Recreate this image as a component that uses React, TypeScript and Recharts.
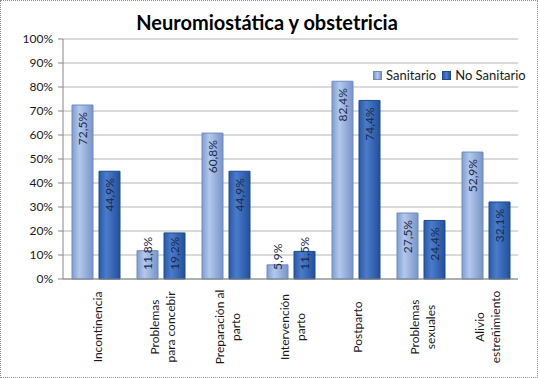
import { Bar, BarChart, CartesianGrid, LabelList, XAxis, YAxis } from "recharts";

const categories = [
  ["Incontinencia"],
  ["Problemas", "para concebir"],
  ["Preparación al", "parto"],
  ["Intervención", "parto"],
  ["Postparto"],
  ["Problemas", "sexuales"],
  ["Alivio", "estreñimiento"],
];
const sanitario = [72.5, 11.8, 60.8, 5.9, 82.4, 27.5, 52.9];
const noSanitario = [44.9, 19.2, 44.9, 11.5, 74.4, 24.4, 32.1];
const yTicks = [0, 10, 20, 30, 40, 50, 60, 70, 80, 90, 100];

const data = categories.map((lines, i) => ({
  name: lines.join(" "),
  lines,
  s: sanitario[i],
  n: noSanitario[i],
}));

const font = "Lato, 'Noto Sans', sans-serif";
const fmt = (v: number) => v.toFixed(1).replace(".", ",") + "%";

function XTick({ x, y, payload }: any) {
  const lines: string[] = data[payload.index]?.lines ?? [payload.value];
  const step = 16;
  const start = -((lines.length - 1) * step) / 2;
  return (
    <g transform={`translate(${x + 2},${y + 48}) rotate(-90)`}>
      {lines.map((l, i) => (
        <text key={i} x={0} y={start + i * step} dy="0.35em" textAnchor="middle" fontSize={12} fill="#1a1a1a" fontFamily={font}>
          {l}
        </text>
      ))}
    </g>
  );
}

function BarLabel({ x, y, width, height, value }: any) {
  const txt = fmt(Number(value));
  const len = txt.length * 6.5;
  const cx = x + width / 2;
  const bottom = y + height;
  const fits = height > len + 16;
  const ty = fits ? y + 7 : bottom - 9;
  return (
    <text
      transform={`translate(${cx},${ty}) rotate(-90)`}
      x={0}
      y={0}
      dy="0.35em"
      textAnchor={fits ? "end" : "start"}
      fontSize={12}
      fill="#1c2a48"
      fontFamily={font}
    >
      {txt}
    </text>
  );
}

export default function App() {
  return (
    <div style={{ position: "absolute", left: 0, top: 0, width: 538, height: 378, background: "#fff" }}>
      <div
        style={{
          position: "absolute",
          left: 0,
          top: 0,
          width: 538,
          height: 378,
          boxSizing: "border-box",
          border: "1px dotted #8c8c8c",
          pointerEvents: "none",
        }}
      />
      <div
        style={{
          position: "absolute",
          left: 0,
          top: 10,
          width: 538,
          textAlign: "center",
          fontFamily: font,
          fontWeight: 700,
          fontSize: 20,
          color: "#000",
          marginLeft: -2,
        }}
      >
        Neuromiostática y obstetricia
      </div>
      <BarChart
        width={538}
        height={378}
        data={data}
        margin={{ top: 39, right: 20, bottom: 0, left: 0 }}
        barCategoryGap={8}
        barGap={6}
      >
        <defs>
          <linearGradient id="gS" x1="0" y1="0" x2="1" y2="0">
            <stop offset="0%" stopColor="#7f9dd0" />
            <stop offset="35%" stopColor="#b3c8ec" />
            <stop offset="100%" stopColor="#7894c8" />
          </linearGradient>
          <linearGradient id="gN" x1="0" y1="0" x2="1" y2="0">
            <stop offset="0%" stopColor="#285aa8" />
            <stop offset="35%" stopColor="#4a7ccb" />
            <stop offset="100%" stopColor="#22509b" />
          </linearGradient>
        </defs>
        <CartesianGrid stroke="#b4b4b4" vertical={false} />
        <XAxis
          dataKey="name"
          height={99}
          interval={0}
          tickLine={false}
          tickSize={0}
          tickMargin={0}
          axisLine={{ stroke: "#868686" }}
          tick={<XTick />}
        />
        <YAxis
          width={63}
          domain={[0, 100]}
          ticks={yTicks}
          interval={0}
          tickFormatter={(v) => `${v}%`}
          tick={{ fontSize: 12, fill: "#1a1a1a", fontFamily: font }}
          tickSize={5}
          tickMargin={5}
          axisLine={{ stroke: "#868686" }}
          tickLine={{ stroke: "#868686" }}
        />
        <Bar dataKey="s" name="Sanitario" fill="url(#gS)" stroke="#6f8cc0" strokeWidth={1} barSize={21} isAnimationActive={false}>
          <LabelList dataKey="s" content={<BarLabel />} />
        </Bar>
        <Bar dataKey="n" name="No Sanitario" fill="url(#gN)" stroke="#1d4a90" strokeWidth={1} barSize={21} isAnimationActive={false}>
          <LabelList dataKey="n" content={<BarLabel />} />
        </Bar>
      </BarChart>
      <div
        style={{
          position: "absolute",
          left: 373,
          top: 67,
          display: "flex",
          alignItems: "center",
          gap: 4,
          fontFamily: font,
          fontSize: 13,
          color: "#1a1a1a",
        }}
      >
        <span style={{ width: 7, height: 7, background: "linear-gradient(90deg,#7f9dd0,#b3c8ec,#7894c8)", border: "1px solid #6f8cc0", display: "inline-block" }} />
        <span style={{ marginRight: 2 }}>Sanitario</span>
        <span style={{ width: 7, height: 7, background: "linear-gradient(90deg,#285aa8,#4a7ccb,#22509b)", border: "1px solid #1d4a90", display: "inline-block" }} />
        <span>No Sanitario</span>
      </div>
    </div>
  );
}
